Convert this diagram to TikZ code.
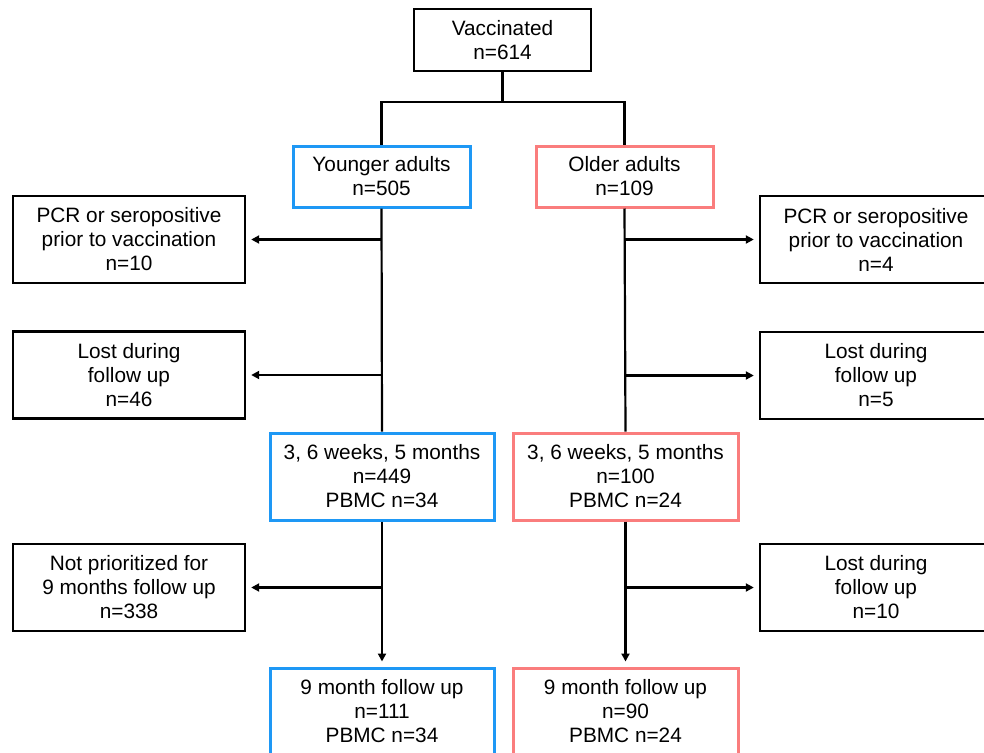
\documentclass[tikz,border=0pt]{standalone}
\usepackage{fontspec}
\setmainfont{Liberation Sans}
\usetikzlibrary{arrows.meta}

\definecolor{youngblue}{RGB}{30,152,245}
\definecolor{oldred}{RGB}{250,125,125}

\tikzset{
  box/.style={draw=black, line width=2.4pt, align=center, inner sep=0pt,
    font=\fontsize{20.8}{24}\selectfont},
  sidebox/.style={box, minimum width=232pt, minimum height=87pt},
  youngbox/.style={box, draw=youngblue, line width=3pt},
  oldbox/.style={box, draw=oldred, line width=3pt},
  link/.style={line width=2.2pt},
  arr/.style={link, -{Triangle[length=8pt,width=8pt]}, shorten >=5pt}
}

\begin{document}
\begin{tikzpicture}[x=1pt, y=-1pt]
  \useasboundingbox (0,0) rectangle (984,752);

  % top of the chart
  \node[box, minimum width=177pt, minimum height=62pt] (vac) at (502.5,40) {Vaccinated\\n=614};
  \node[youngbox, minimum width=177pt, minimum height=61pt] (young) at (381.5,176.5) {Younger adults\\n=505};
  \node[oldbox, minimum width=177pt, minimum height=61pt] (old) at (624.5,176.5) {Older adults\\n=109};

  % excluded, left and right
  \node[sidebox] (pcrL) at (129,239.5) {PCR or seropositive\\prior to vaccination\\n=10};
  \node[sidebox] (pcrR) at (876,239.5) {PCR or seropositive\\prior to vaccination\\n=4};
  \node[sidebox] (lostL) at (129,375) {Lost during\\follow up\\n=46};
  \node[sidebox] (lostR) at (876,375.5) {Lost during\\follow up\\n=5};

  % 3, 6 weeks and 5 months
  \node[youngbox, minimum width=224pt, minimum height=87pt] (earlyY) at (382,476.5) {3, 6 weeks, 5 months\\n=449\\PBMC n=34};
  \node[oldbox, minimum width=225pt, minimum height=87pt] (earlyO) at (625.5,476.5) {3, 6 weeks, 5 months\\n=100\\PBMC n=24};

  \node[sidebox] (prioL) at (129,587.5) {Not prioritized for\\9 months follow up\\n=338};
  \node[sidebox] (lost2R) at (876,587.5) {Lost during\\follow up\\n=10};

  % 9 months
  \node[youngbox, minimum width=224pt, minimum height=87pt] (nineY) at (382,711.5) {9 month follow up\\n=111\\PBMC n=34};
  \node[oldbox, minimum width=225pt, minimum height=87pt] (nineO) at (625.5,711.5) {9 month follow up\\n=90\\PBMC n=24};

  % split
  \draw[link] (vac.south) -- ++(0,30) -| (young.north);
  \draw[link] (vac.south) -- ++(0,30) -| (old.north);

  % trunks
  \draw[link] (young.south) -- (earlyY.north);
  \draw[link] (old.south) -- (earlyO.north);
  \draw[arr] (earlyY.south) -- (nineY.north);
  \draw[arr] (earlyO.south) -- (nineO.north);

  % side arrows
  \draw[arr] (young.south |- pcrL.east) -- (pcrL.east);
  \draw[arr] (young.south |- lostL.east) -- (lostL.east);
  \draw[arr] (earlyY.south |- prioL.east) -- (prioL.east);
  \draw[arr] (old.south |- pcrR.west) -- (pcrR.west);
  \draw[arr] (old.south |- lostR.west) -- (lostR.west);
  \draw[arr] (earlyO.south |- lost2R.west) -- (lost2R.west);

\end{tikzpicture}
\end{document}
